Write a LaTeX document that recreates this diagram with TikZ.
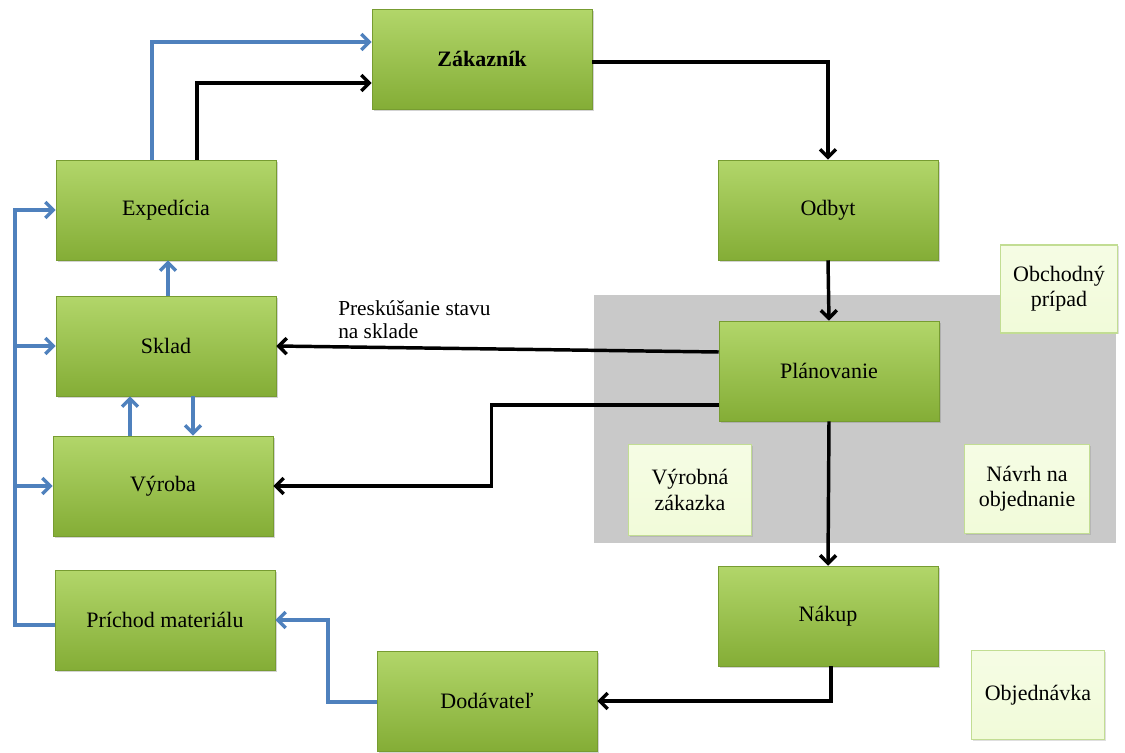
\documentclass[tikz,border=0pt]{standalone}
\usepackage{fontspec}
\setmainfont{Liberation Serif}
\usetikzlibrary{arrows.meta,calc,shadows}

\definecolor{boxtop}{HTML}{B2D66A}
\definecolor{boxbot}{HTML}{84AD36}
\definecolor{notefill}{HTML}{F1FBD9}
\definecolor{noteline}{HTML}{C2DD93}
\definecolor{greyback}{HTML}{C9C9C9}
\definecolor{flowblue}{HTML}{4F81BD}

\tikzset{
  proc/.style={rectangle, draw=boxbot!90!black, line width=0.4pt, top color=boxtop, bottom color=boxbot,
    minimum width=165pt, minimum height=75pt, inner sep=0.75pt, font=\fontsize{16.5}{19}\selectfont,
    drop shadow={opacity=0.35, shadow xshift=1.5pt, shadow yshift=-1.5pt}},
  note/.style={rectangle, draw=noteline, line width=0.8pt, top color=notefill!70!white, bottom color=notefill,
    align=center, inner sep=0.75pt, font=\fontsize{16.5}{19}\selectfont,
    drop shadow={opacity=0.25, shadow xshift=1pt, shadow yshift=-1pt}},
  flow/.style={draw=black, line width=2.6pt, -{Straight Barb[length=6pt,width=12pt,line width=2.6pt]}},
  supply/.style={flow, draw=flowblue, line width=2.9pt}
}

\begin{document}
\begin{tikzpicture}[x=0.75pt,y=0.75pt,yscale=-1,xscale=1]
    \useasboundingbox (0,0) rectangle (1125,753);

    % Grey background
    \fill[greyback] (594,295) rectangle (1116,543);

    % Process nodes
    \node[proc, font=\fontsize{16.5}{19}\selectfont\bfseries] (zak) at (482,59) {Zákazník};
    \node[proc] (odb) at (828,210) {Odbyt};
    \node[proc] (exp) at (166,210) {Expedícia};
    \node[proc] (skl) at (166,346) {Sklad};
    \node[proc] (vyr) at (163,486) {Výroba};
    \node[proc] (pri) at (165,620) {Príchod materiálu};
    \node[proc] (dod) at (487,701) {Dodávateľ};
    \node[proc] (nak) at (828,616) {Nákup};
    \node[proc] (pla) at (829,371) {Plánovanie};

    % Document notes
    \node[note, minimum width=88pt, minimum height=66pt] (obc) at (1059,289) {Obchodný\\prípad};
    \node[note, minimum width=92pt, minimum height=68pt] (vzak) at (690,490) {Výrobná\\zákazka};
    \node[note, minimum width=94pt, minimum height=67pt] (navrh) at (1027,489) {Návrh na\\objednanie};
    \node[note, minimum width=100pt, minimum height=67pt] (objd) at (1038,695) {Objednávka};

    % Main flow
    \draw[flow] ($(zak.east)+(0,3)$) -| (odb.north);
    \draw[flow] (odb.south) -- (pla.north);
    \draw[flow] (pla.south) -- (nak.north);
    \draw[flow] ($(nak.south)+(3,0)$) |- (dod.east);
    \draw[flow] ($(pla.west)+(0,-19)$) -- (skl.east);
    \draw[flow] ($(pla.west)+(0,34)$) -- ++(-227,0) |- (vyr.east);
    \draw[flow] ($(exp.north)+(31,0)$) |- ($(zak.west)+(0,24)$);

    % Label
    \node[anchor=north west, align=left, inner sep=0.75pt, font=\fontsize{16}{17.5}\selectfont] (lab) at (337,299) {Preskúšanie stavu\\na sklade};

    % Material flow
    \draw[supply] ($(exp.north)+(-14,0)$) |- ($(zak.west)+(0,-17)$);
    \draw[supply] ($(skl.north)+(2,0)$) coordinate (ex) -- (ex |- exp.south);
    \draw[supply] ($(vyr.north)+(-33,0)$) coordinate (up) -- (up |- skl.south);
    \draw[supply] ($(skl.south)+(27,0)$) coordinate (dn) -- (dn |- vyr.north);
    \draw[supply] ($(dod.west)+(0,1)$) -- ++(-49,0) |- (pri.east);
    \coordinate (bus) at ($(pri.west)+(-40,5)$);
    \draw[supply] ($(pri.west)+(0,5)$) -- (bus) |- (exp.west);
    \draw[supply] (bus |- skl.west) -- (skl.west);
    \draw[supply] (bus |- vyr.west) -- (vyr.west);
\end{tikzpicture}
\end{document}
